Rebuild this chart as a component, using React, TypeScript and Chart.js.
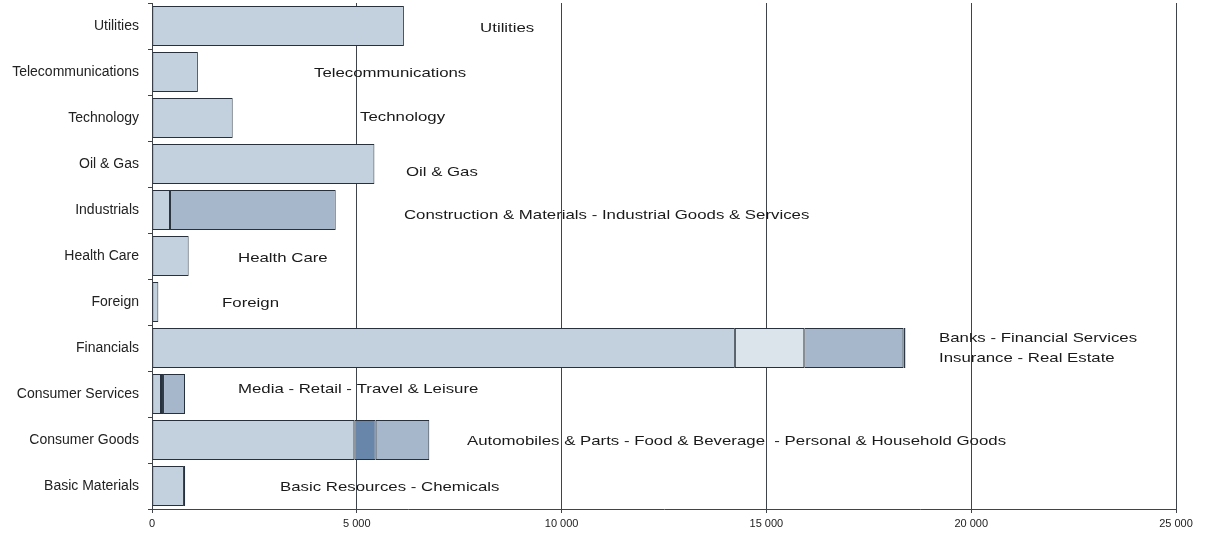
import React, { useEffect, useRef } from 'react';
import { Chart, registerables } from 'chart.js';

Chart.register(...registerables);

// ---------- data ----------
const categories = [
  'Utilities',
  'Telecommunications',
  'Technology',
  'Oil & Gas',
  'Industrials',
  'Health Care',
  'Foreign',
  'Financials',
  'Consumer Services',
  'Consumer Goods',
  'Basic Materials',
];

// stacked segments, left to right within each bar
const segment1 = [6150, 1120, 1970, 5430, 440, 895, 155, 14230, 220, 4940, 780];
const segment2 = [null, null, null, null, 4045, null, null, 1695, 50, 520, 30];
const segment3 = [null, null, null, null, null, null, null, 2420, 536, 1310, null];
const segment4 = [null, null, null, null, null, null, null, 50, null, null, null];

const subsectorLabels = [
  ['Utilities'],
  ['Telecommunications'],
  ['Technology'],
  ['Oil & Gas'],
  ['Construction & Materials - Industrial Goods & Services'],
  ['Health Care'],
  ['Foreign'],
  ['Banks - Financial Services', 'Insurance - Real Estate'],
  ['Media - Retail - Travel & Leisure'],
  ['Automobiles & Parts - Food & Beverage  - Personal & Household Goods'],
  ['Basic Resources - Chemicals'],
];
// x value (data units) where each subsector label starts
const labelAnchorValues = [8010, 3955, 5080, 6200, 6150, 2100, 1710, 19215, 2100, 7690, 3125];

const xMin = 0;
const xMax = 25000;
const xStep = 5000;

// ---------- styles ----------
const LIGHT = '#c3d0dd';
const PALE = '#dbe3eb';
const MID = '#a6b6cb';
const DEEP = '#6886a9';
const NAVY = '#1d3553';

const seg1Colors = categories.map(() => LIGHT);
const seg2Colors = [LIGHT, LIGHT, LIGHT, LIGHT, MID, LIGHT, LIGHT, PALE, NAVY, DEEP, NAVY];
const seg3Colors = categories.map(() => MID);
const seg4Colors = categories.map(() => NAVY);

// vertical pixel offsets of the labels relative to the category centre
const labelYOffsets = [2, 1, -1, 8, 5, 2, 1, 0, -5, 1, 1];

const FONT = '"Liberation Sans", Arial, sans-serif';

const formatThousands = (v: number) => String(v).replace(/\B(?=(\d{3})+(?!\d))/g, ' ');

const labelPlugin = {
  id: 'subsectorLabels',
  afterDatasetsDraw(chart: any) {
    const { ctx, scales } = chart;
    const x = scales.x;
    const y = scales.y;
    ctx.save();
    ctx.fillStyle = '#1a1a1a';
    ctx.font = `13.5px ${FONT}`;
    ctx.textBaseline = 'middle';
    ctx.textAlign = 'left';
    subsectorLabels.forEach((lines, i) => {
      const px = x.getPixelForValue(labelAnchorValues[i]);
      const cy = y.getPixelForValue(i) + labelYOffsets[i];
      const lh = 20;
      const startY = cy - ((lines.length - 1) * lh) / 2;
      lines.forEach((line, j) => {
        ctx.save();
        ctx.translate(px, startY + j * lh);
        ctx.scale(1.245, 1);
        ctx.fillText(line, 0, 0);
        ctx.restore();
      });
    });
    ctx.restore();
  },
};

export default function App() {
  const canvasRef = useRef<HTMLCanvasElement | null>(null);

  useEffect(() => {
    if (!canvasRef.current) return;
    const mk = (data: (number | null)[], colors: string[]) => ({
      data,
      backgroundColor: colors,
      borderColor: '#26313d',
      borderWidth: 1,
      borderSkipped: false,
      barPercentage: 0.87,
      categoryPercentage: 1,
    });
    const chart = new Chart(canvasRef.current, {
      type: 'bar',
      data: {
        labels: categories,
        datasets: [
          mk(segment1, seg1Colors),
          mk(segment2, seg2Colors),
          mk(segment3, seg3Colors),
          mk(segment4, seg4Colors),
        ],
      },
      options: {
        indexAxis: 'y',
        animation: false,
        responsive: false,
        maintainAspectRatio: false,
        layout: { padding: { top: 3, right: 30, left: 0, bottom: 0 } },
        plugins: {
          legend: { display: false },
          tooltip: { enabled: false },
        },
        scales: {
          x: {
            stacked: true,
            min: xMin,
            max: xMax,
            ticks: {
              stepSize: xStep,
              color: '#222',
              font: { family: FONT, size: 11 },
              padding: 4,
              callback: (v: any) => formatThousands(Number(v)),
            },
            grid: {
              color: '#3f444c',
              lineWidth: 1,
              drawTicks: true,
              tickLength: 4,
            },
            border: { color: '#3f444c', width: 1 },
            afterFit: (scale: any) => {
              scale.height = 24;
              scale.paddingLeft = 0;
              scale.paddingRight = 0;
            },
          },
          y: {
            stacked: true,
            ticks: {
              color: '#222',
              font: { family: FONT, size: 14 },
              padding: 9,
            },
            grid: {
              drawOnChartArea: false,
              drawTicks: true,
              tickLength: 4,
              color: '#3f444c',
            },
            border: { color: '#3f444c', width: 1 },
            afterFit: (scale: any) => {
              scale.width = 152;
              scale.paddingTop = 0;
              scale.paddingBottom = 0;
            },
          },
        },
      },
      plugins: [labelPlugin],
    });
    return () => chart.destroy();
  }, []);

  return (
    <div style={{ position: 'fixed', left: 0, top: 0, width: 1206, height: 533, background: '#fff' }}>
      <canvas ref={canvasRef} width={1206} height={533} style={{ display: 'block' }} />
    </div>
  );
}
